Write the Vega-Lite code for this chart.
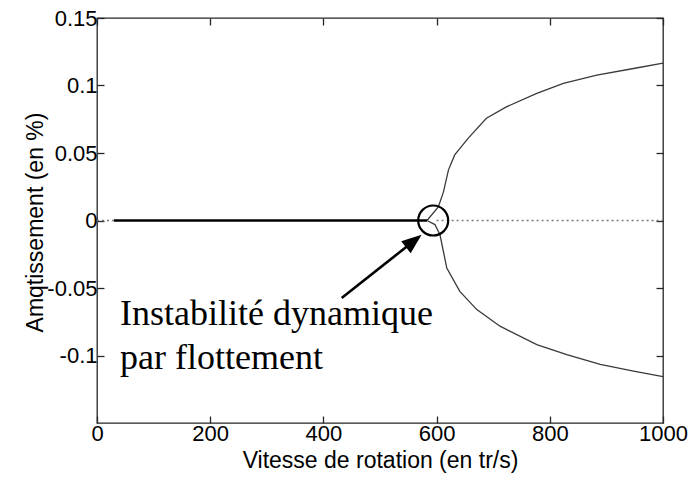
{
  "$schema": "https://vega.github.io/schema/vega-lite/v6.json",
  "width": 566,
  "height": 405,
  "autosize": "none",
  "padding": {"left": 97, "top": 18, "right": 32, "bottom": 55},
  "background": "white",
  "config": {
    "view": {"stroke": "#262626", "strokeWidth": 1.3},
    "axis": {
      "labelFont": "Liberation Sans",
      "titleFont": "Liberation Sans",
      "labelColor": "#000",
      "titleColor": "#000",
      "titleFontWeight": "normal",
      "labelFontSize": 22,
      "titleFontSize": 23,
      "grid": false,
      "domain": false,
      "tickColor": "#262626",
      "tickWidth": 1.3,
      "tickSize": -7
    }
  },
  "datasets": {
    "dotted": [
      {"x": 0, "y": 0, "seg": "a"},
      {"x": 30, "y": 0, "seg": "a"},
      {"x": 600, "y": 0, "seg": "b"},
      {"x": 1000, "y": 0, "seg": "b"}
    ],
    "stable": [
      {"x": 30, "y": 0},
      {"x": 583, "y": 0}
    ],
    "branches": [
      {"x": 583, "y": 0, "b": "haut"},
      {"x": 603, "y": 0.010, "b": "haut"},
      {"x": 612, "y": 0.021, "b": "haut"},
      {"x": 621, "y": 0.0375, "b": "haut"},
      {"x": 632, "y": 0.0486, "b": "haut"},
      {"x": 656, "y": 0.061, "b": "haut"},
      {"x": 688, "y": 0.0757, "b": "haut"},
      {"x": 724, "y": 0.0843, "b": "haut"},
      {"x": 777, "y": 0.0942, "b": "haut"},
      {"x": 824, "y": 0.1015, "b": "haut"},
      {"x": 883, "y": 0.1077, "b": "haut"},
      {"x": 948, "y": 0.1126, "b": "haut"},
      {"x": 1000, "y": 0.1166, "b": "haut"},
      {"x": 583, "y": 0, "b": "bas"},
      {"x": 597, "y": -0.003, "b": "bas"},
      {"x": 606, "y": -0.0106, "b": "bas"},
      {"x": 618, "y": -0.0352, "b": "bas"},
      {"x": 641, "y": -0.0525, "b": "bas"},
      {"x": 671, "y": -0.066, "b": "bas"},
      {"x": 712, "y": -0.0783, "b": "bas"},
      {"x": 777, "y": -0.0919, "b": "bas"},
      {"x": 830, "y": -0.0993, "b": "bas"},
      {"x": 889, "y": -0.1066, "b": "bas"},
      {"x": 948, "y": -0.1116, "b": "bas"},
      {"x": 1000, "y": -0.1156, "b": "bas"}
    ],
    "circle": [{"x": 594, "y": 0}],
    "shaft": [
      {"x": 432.3, "y": -0.0574},
      {"x": 559.7, "y": -0.0152}
    ],
    "tip": [{"x": 573.5, "y": -0.0106}],
    "label": [
      {"x": 40.6, "y": -0.0771, "t": "Instabilité dynamique"},
      {"x": 40.6, "y": -0.1103, "t": "par flottement"}
    ]
  },
  "encoding": {
    "x": {"field": "x", "type": "quantitative", "scale": {"domain": [0, 1000], "nice": false, "zero": false}, "axis": null},
    "y": {"field": "y", "type": "quantitative", "scale": {"domain": [-0.15, 0.15], "nice": false, "zero": false}, "axis": null}
  },
  "layer": [
    {
      "data": {"name": "dotted"},
      "mark": {"type": "line", "color": "#7a7a7a", "strokeWidth": 1.3, "strokeDash": [2, 3]},
      "encoding": {
        "x": {"field": "x", "type": "quantitative", "scale": {"domain": [0, 1000], "nice": false, "zero": false},
          "axis": {"orient": "bottom", "values": [0, 200, 400, 600, 800, 1000], "labelExpr": "'' + datum.value", "labelPadding": 7, "title": "Vitesse de rotation (en tr/s)", "titlePadding": 5, "labelFlush": false}},
        "y": {"field": "y", "type": "quantitative", "scale": {"domain": [-0.15, 0.15], "nice": false, "zero": false},
          "axis": {"orient": "left", "values": [-0.1, -0.05, 0, 0.05, 0.1, 0.15], "labelExpr": "'' + datum.value", "labelPadding": 7, "labelFlush": false, "title": "Amqtissement (en %)", "titleX": -62, "titleY": 204, "titleAngle": -90, "titleBaseline": "middle", "titleAlign": "center"}},
        "detail": {"field": "seg"}
      }
    },
    {
      "data": {"name": "stable"},
      "mark": {"type": "line", "color": "#000", "strokeWidth": 2.6}
    },
    {
      "data": {"name": "branches"},
      "mark": {"type": "line", "color": "#3a3a3a", "strokeWidth": 1.3},
      "encoding": {"detail": {"field": "b"}}
    },
    {
      "data": {"name": "shaft"},
      "mark": {"type": "line", "color": "#000", "strokeWidth": 2.6}
    },
    {
      "data": {"name": "tip"},
      "mark": {"type": "point", "shape": "M0,0L-0.38,1L0.38,1Z", "angle": 51.6, "filled": true, "color": "#000", "opacity": 1, "size": 1600, "strokeWidth": 0}
    },
    {
      "data": {"name": "label"},
      "mark": {"type": "text", "align": "left", "baseline": "alphabetic", "font": "Liberation Serif", "fontSize": 36, "color": "#000"},
      "encoding": {"text": {"field": "t"}}
    },
    {
      "data": {"name": "circle"},
      "mark": {"type": "point", "shape": "circle", "filled": false, "color": "#000", "opacity": 1, "size": 900, "strokeWidth": 2.2},
      "encoding": {
        "x": {"field": "x", "type": "quantitative", "scale": {"domain": [0, 1000], "nice": false, "zero": false},
          "axis": {"orient": "top", "values": [0, 200, 400, 600, 800, 1000], "labels": false, "title": null}},
        "y": {"field": "y", "type": "quantitative", "scale": {"domain": [-0.15, 0.15], "nice": false, "zero": false},
          "axis": {"orient": "right", "values": [-0.1, -0.05, 0, 0.05, 0.1, 0.15], "labels": false, "title": null}}
      }
    }
  ],
  "resolve": {"axis": {"x": "independent", "y": "independent"}}
}
